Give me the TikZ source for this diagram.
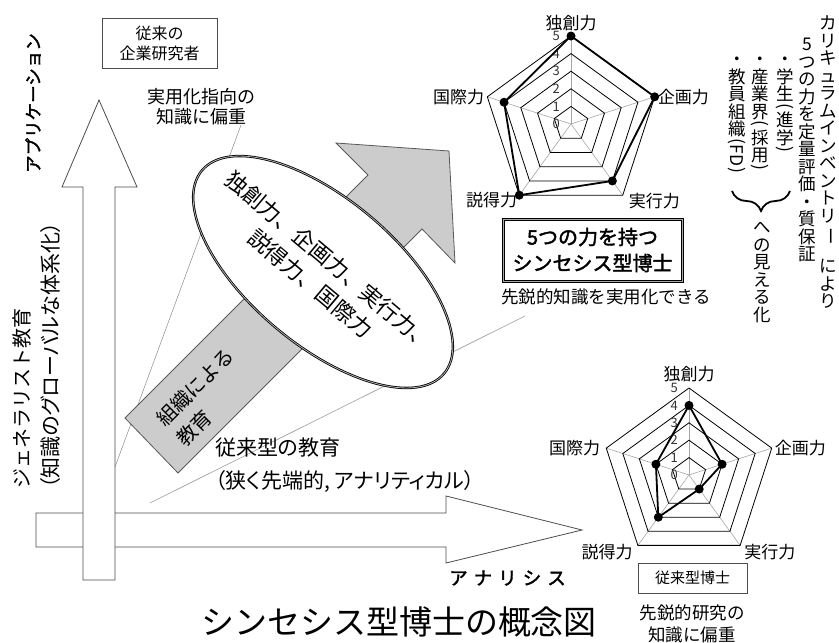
\documentclass[tikz,border=0pt]{standalone}
\usepackage{fontspec}
\setmainfont{Noto Sans CJK JP}[AutoFakeBold=2]
\newfontfamily\pf{Noto Sans CJK JP}[RawFeature=+palt, AutoFakeBold=2]
\usetikzlibrary{shapes.geometric,decorations.pathreplacing}

\makeatletter
\newcommand\tatecol[1]{\vbox{\offinterlineskip\tate@a#1\@nil}}
\def\tate@a#1{\ifx\@nil#1\else\tate@b{#1}\expandafter\tate@a\fi}
\def\tate@b#1{\hbox to 1em{\hss\ifcat\relax\noexpand#1#1\else\raisebox{0pt}[.88em][.12em]{#1}\fi\hss}}
\makeatother
\newcommand\tLP{\raisebox{0pt}[.5em][0pt]{\rotatebox[origin=c]{-90}{(}}}
\newcommand\tRP{\raisebox{0pt}[.5em][0pt]{\rotatebox[origin=c]{-90}{)}}}
\newcommand\tCH{\raisebox{0pt}[.88em][.12em]{\rotatebox[origin=c]{-90}{ー}}}
\newcommand\tSP{\rule{0pt}{.9em}}
\newcommand\tFD{\raisebox{.3em}[1.2em][0pt]{\rotatebox[origin=c]{-90}{FD}}}

\newcommand\radarchart[4]{%
\begin{scope}[shift={#2}]
\foreach \i in {0,...,4} {\coordinate (#1v\i) at ({-90+72*\i}:#3); \draw[spoke] (0,0) -- (#1v\i);}
\foreach \l in {1,...,5} {\draw[gridl] (-90:{\l*#3/5}) -- (-18:{\l*#3/5}) -- (54:{\l*#3/5}) -- (126:{\l*#3/5}) -- (198:{\l*#3/5}) -- cycle;}
\foreach \l in {0,...,5} {\node[lvl] (#1n\l) at (-11,{-\l*#3/5}) {\l};}
\foreach \v [count=\i from 0] in {#4} {\coordinate (#1d\i) at ({-90+72*\i}:{\v*#3/5});}
\draw[datal] (#1d0) -- (#1d1) -- (#1d2) -- (#1d3) -- (#1d4) -- cycle;
\foreach \i in {0,...,4} {\fill (#1d\i) circle[radius=4.5pt];}
\end{scope}}

\tikzset{
  whitearrow/.style={draw=black!70, fill=white, line width=0.8pt},
  grayarrow/.style={draw=black!65, fill=black!20, line width=0.8pt},
  callout/.style={draw=black!40, line width=0.6pt},
  spoke/.style={draw=black!35, line width=0.6pt},
  gridl/.style={draw=black, line width=0.8pt},
  datal/.style={draw=black, line width=1.8pt, line join=round},
  lvl/.style={inner sep=0pt, anchor=east, text=black!80, font=\fontsize{13}{13}\selectfont},
  axlbl/.style={inner sep=0pt, font=\fontsize{17}{17}\selectfont},
  thinbox/.style={draw=black!70, line width=0.7pt, inner sep=0pt, align=center},
  txt/.style={inner sep=0pt, align=center},
}

\begin{document}
\begin{tikzpicture}[x=1pt,y=-1pt]
\useasboundingbox (0,0) rectangle (839,643);

% callout lines
\coordinate (cA1) at (241,125);
\coordinate (cA2) at (115,467);
\coordinate (cB1) at (525,316);
\coordinate (cB2) at (150,503);
\draw[callout] (cA1) -- (cA2);
\draw[callout] (cB1) -- (cB2);

% white arrows
\draw[whitearrow] (36,513) -- (446,513) -- (446,496) -- (582,530) -- (446,563) -- (446,547) -- (36,547) -- cycle;
\draw[whitearrow] (83,580) -- (83,187) -- (62,187) -- (99,100) -- (137,187) -- (115,187) -- (115,580) -- cycle;

% gray arrow
\draw[grayarrow] (125,418) -- (178,473) -- (422,229) -- (455,263) -- (449,151) -- (336,143) -- (368,175) -- cycle;
\node[txt, align=left, rotate=45, font=\fontsize{20}{28}\selectfont] (soshiki) at (205,397) {組織による\\教育};

% ellipse
\node[ellipse, draw=black, line width=0.8pt, double=black!30, double distance=0.8pt, fill=white,
      rotate=-40, minimum width=316pt, minimum height=146pt, inner sep=0pt] (ell) at (323,272) {};
\node[txt, rotate=-40, font=\fontsize{22}{30}\selectfont] (elltext) at (320,272) {独創力、企画力、実行力、\\説得力、国際力};

% radar charts
\radarchart{t}{(571,124)}{88}{5,5,4,5,4}
\radarchart{b}{(689,475)}{87}{4,2,1,3,2}

\node[axlbl, anchor=south] (tl0) at ([yshift=5pt]tv0) {独創力};
\node[axlbl, anchor=west] (tl1) at ([xshift=3pt]tv1) {企画力};
\node[axlbl, anchor=west] (tl2) at ([xshift=6pt,yshift=-6pt]tv2) {実行力};
\node[axlbl, anchor=east] (tl3) at ([xshift=-2pt,yshift=-5pt]tv3) {説得力};
\node[axlbl, anchor=east] (tl4) at ([xshift=-3pt]tv4) {国際力};

\node[axlbl, anchor=south] (bl0) at ([yshift=6pt]bv0) {独創力};
\node[axlbl, anchor=west] (bl1) at ([xshift=3pt]bv1) {企画力};
\node[axlbl, anchor=west] (bl2) at ([xshift=4pt,yshift=-7pt]bv2) {実行力};
\node[axlbl, anchor=east] (bl3) at ([xshift=-5pt,yshift=-7pt]bv3) {説得力};
\node[axlbl, anchor=east] (bl4) at ([xshift=-6pt]bv4) {国際力};

% boxes and texts
\node[thinbox, minimum width=115pt, minimum height=50pt, font=\fontsize{16}{20}\selectfont] (kigyo) at (159.5,43) {従来の\\企業研究者};
\node[txt, font=\fontsize{18}{20}\selectfont] (jitsuyo) at (201,107) {実用化指向の\\知識に偏重};

\node[draw=black, line width=1pt, double=black!35, double distance=1pt, inner sep=0pt, align=center,
      minimum width=179pt, minimum height=62pt, font=\bfseries\fontsize{20}{26}\selectfont] (synth) at (592.5,250) {5つの力を持つ\\シンセシス型博士};
\node[txt, font=\fontsize{17.5}{20}\selectfont] (senei) at (606,297) {先鋭的知識を実用化できる};

\node[thinbox, minimum width=109pt, minimum height=30pt, font=\fontsize{15}{18}\selectfont] (juraihakase) at (692.5,578) {従来型博士};
\node[txt, font=\fontsize{17.5}{22}\selectfont] (seneiken) at (692,624) {先鋭的研究の\\知識に偏重};

\node[txt, align=left, anchor=west, font=\pf\fontsize{21}{33}\selectfont] (juraikyoiku) at (215,465) {従来型の教育\\（狭く先端的, アナリティカル）};
\node[txt, font=\bfseries\fontsize{18.5}{20}\selectfont] (analysis) at (507.5,578) {ア\hspace{6pt}ナ\hspace{6pt}リ\hspace{6pt}シ\hspace{6pt}ス};
\node[txt, font=\fontsize{33}{36}\selectfont] (title) at (399,622) {シンセシス型博士の概念図};

% left vertical texts
\node[txt, rotate=90, font=\bfseries\fontsize{17.5}{20}\selectfont] (appli) at (33,103) {アプリケーション};
\node[txt, rotate=90, anchor=north west, align=left, font=\pf\fontsize{21}{29}\selectfont] (general) at (12,489) {{\normalfont\fontsize{20}{29}\selectfont ジェネラリスト教育}\\（知識のグローバルな体系化）};

% right vertical columns
\begin{scope}[every node/.style={inner sep=0pt, anchor=north, font=\fontsize{17.5}{17.5}\selectfont}]
\node (col1) at (828,14) {\tatecol{カリキュラムインベントリ\tCH\tSP により}};
\node (col2) at (807,35) {\tatecol{5つの力を定量評価・質保証}};
\node (col3) at (785,50) {\tatecol{・学生\tLP 進学\tRP}};
\node (col4) at (760,50) {\tatecol{・産業界\tLP 採用\tRP}};
\node (col5) at (737,50) {\tatecol{・教員組織\tLP\tFD\tRP}};
\node (col6) at (762,218) {\tatecol{への見える化}};
\end{scope}
\coordinate (brR) at (790,191);
\coordinate (brL) at (732,191);
\draw[decorate, decoration={brace, amplitude=20pt, aspect=0.5}, line width=1.8pt] (brR) -- (brL);

\end{tikzpicture}
\end{document}
